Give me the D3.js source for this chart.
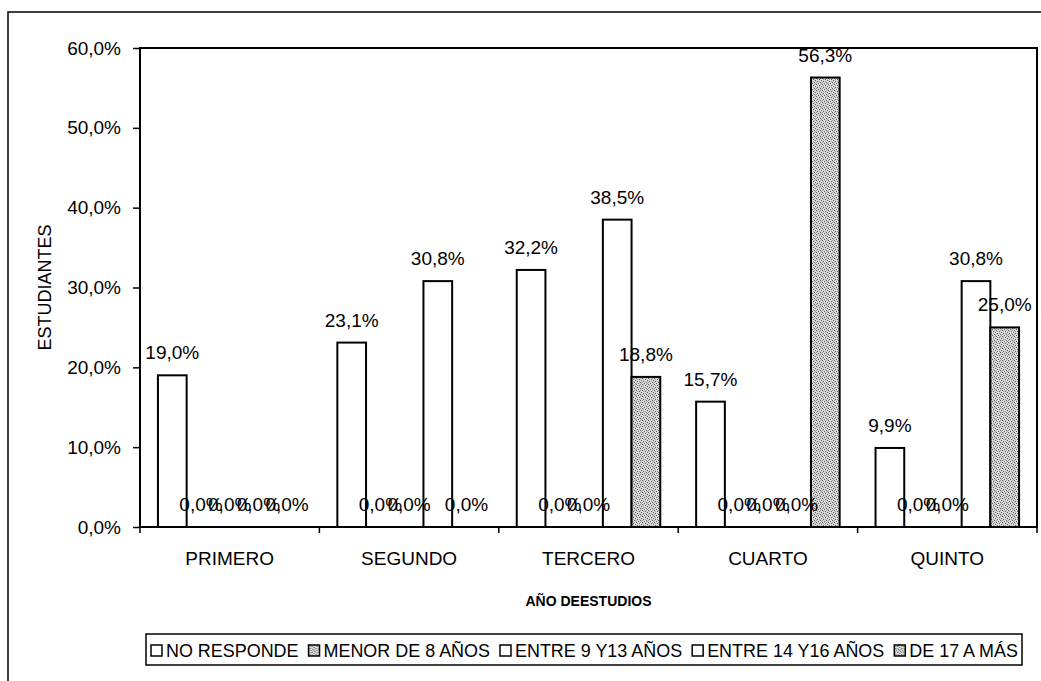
<!DOCTYPE html>
<html>
<head>
<meta charset="utf-8">
<script src="https://cdn.jsdelivr.net/npm/d3@7"></script>
<style>
  html, body { margin: 0; padding: 0; background: #fff; }
  svg { display: block; }
  text { font-family: "Liberation Sans", Arial, sans-serif; fill: #000; }
</style>
</head>
<body>
<svg id="chart" width="1041" height="681"></svg>
<script>
// ---- Data ----
const categories = ["PRIMERO", "SEGUNDO", "TERCERO", "CUARTO", "QUINTO"];
const seriesNames = ["NO RESPONDE", "MENOR DE 8 AÑOS", "ENTRE 9 Y13 AÑOS", "ENTRE 14 Y16 AÑOS", "DE 17 A MÁS"];
const noResponde   = [19.0, 23.1, 32.2, 15.7, 9.9];
const menorDe8     = [0.0, 0.0, 0.0, 0.0, 0.0];
const entre9y13    = [0.0, 0.0, 0.0, 0.0, 0.0];
const entre14y16   = [0.0, 30.8, 38.5, 0.0, 30.8];
const de17aMas     = [0.0, 0.0, 18.8, 56.3, 25.0];
const yTicks = [0, 10, 20, 30, 40, 50, 60];
const xTitle = "AÑO DEESTUDIOS";
const yTitle = "ESTUDIANTES";

const seriesValues = [noResponde, menorDe8, entre9y13, entre14y16, de17aMas];
const patterned = [false, true, false, false, true];

// ---- Layout ----
const svg = d3.select("#chart");
const plot = { left: 140, right: 1037, top: 48, bottom: 527 };

const locale = d3.formatLocale({ decimal: ",", thousands: ".", grouping: [3], currency: ["", ""] });
const fmt = v => locale.format(".1f")(v) + "%";

// pattern
const defs = svg.append("defs");
const pat = defs.append("pattern").attr("id", "stipple")
  .attr("patternUnits", "userSpaceOnUse").attr("width", 6).attr("height", 6);
pat.append("rect").attr("width", 6).attr("height", 6).attr("fill", "#dcdcdc");
[[0,0],[3,1],[1,3],[4,4],[2,5],[5,2]].forEach(([x, y]) =>
  pat.append("rect").attr("x", x).attr("y", y).attr("width", 1).attr("height", 1).attr("fill", "#555"));
[[1,1],[4,0],[0,4],[3,3],[5,5]].forEach(([x, y]) =>
  pat.append("rect").attr("x", x).attr("y", y).attr("width", 1).attr("height", 1).attr("fill", "#999"));

// outer frame
svg.append("rect").attr("x", 8).attr("y", 12).attr("width", 1100).attr("height", 800)
  .attr("fill", "none").attr("stroke", "#000").attr("stroke-width", 1.5);

const x0 = d3.scaleBand().domain(categories).range([plot.left, plot.right]).paddingInner(0).paddingOuter(0);
const groupW = x0.bandwidth();
const x1 = d3.scaleBand().domain(d3.range(seriesNames.length))
  .range([0, groupW]).paddingInner(0).paddingOuter(0.625);
const y = d3.scaleLinear().domain([0, 60]).range([plot.bottom, plot.top]);

// plot area frame
svg.append("rect").attr("x", plot.left).attr("y", plot.top)
  .attr("width", plot.right - plot.left).attr("height", plot.bottom - plot.top)
  .attr("fill", "#fff").attr("stroke", "#000").attr("stroke-width", 2);

// bars
const barData = [];
categories.forEach((c, ci) => {
  seriesValues.forEach((vals, si) => barData.push({ c, si, v: vals[ci] }));
});

const gBars = svg.append("g");
gBars.selectAll("rect").data(barData.filter(d => d.v > 0)).join("rect")
  .attr("x", d => x0(d.c) + x1(d.si))
  .attr("y", d => y(d.v))
  .attr("width", x1.bandwidth())
  .attr("height", d => y(0) - y(d.v))
  .attr("fill", d => patterned[d.si] ? "url(#stipple)" : "#fff")
  .attr("stroke", "#000").attr("stroke-width", 2);

// bar labels
svg.append("g").selectAll("text").data(barData).join("text")
  .attr("x", d => x0(d.c) + x1(d.si) + x1.bandwidth() / 2)
  .attr("y", d => y(d.v) - 16)
  .attr("text-anchor", "middle")
  .attr("font-size", 19)
  .text(d => fmt(d.v));

// y axis
const yAxis = d3.axisLeft(y).tickValues(yTicks).tickSize(7).tickPadding(12).tickFormat(v => locale.format(".1f")(v) + "%");
const gy = svg.append("g").attr("transform", `translate(${plot.left},0)`).call(yAxis);
gy.select(".domain").remove();
gy.selectAll(".tick line").attr("stroke", "#000").attr("stroke-width", 1.5);
gy.selectAll(".tick text").attr("font-size", 19).attr("font-family", "Liberation Sans, Arial, sans-serif").attr("fill", "#000");

// x axis
const xAxis = d3.axisBottom(x0).tickSize(0).tickPadding(25);
const gx = svg.append("g").attr("transform", `translate(0,${plot.bottom})`).call(xAxis);
gx.select(".domain").remove();
gx.selectAll(".tick text").attr("font-size", 19).attr("font-family", "Liberation Sans, Arial, sans-serif").attr("fill", "#000");
// boundary ticks
const bounds = categories.map(c => x0(c)).concat([plot.right]);
svg.append("g").selectAll("line").data(bounds).join("line")
  .attr("x1", d => d).attr("x2", d => d)
  .attr("y1", plot.bottom).attr("y2", plot.bottom + 6)
  .attr("stroke", "#000").attr("stroke-width", 1.5);

// axis titles
svg.append("text").attr("x", (plot.left + plot.right) / 2).attr("y", 606)
  .attr("text-anchor", "middle").attr("font-size", 15).attr("font-weight", "bold")
  .attr("textLength", 126).attr("lengthAdjust", "spacingAndGlyphs")
  .text(xTitle);
svg.append("text").attr("transform", `translate(51,${(plot.top + plot.bottom) / 2}) rotate(-90)`)
  .attr("text-anchor", "middle").attr("font-size", 18)
  .text(yTitle);

// legend
const legBox = { x: 146, y: 634, w: 876, h: 31 };
svg.append("rect").attr("x", legBox.x).attr("y", legBox.y).attr("width", legBox.w).attr("height", legBox.h)
  .attr("fill", "#fff").attr("stroke", "#000").attr("stroke-width", 1.5);
const gLeg = svg.append("g");
let cx = 0;
seriesNames.forEach((name, i) => {
  const item = gLeg.append("g").attr("transform", `translate(${cx},0)`);
  item.append("rect").attr("x", 0).attr("y", -12).attr("width", 11).attr("height", 11)
    .attr("fill", patterned[i] ? "url(#stipple)" : "#fff").attr("stroke", "#000").attr("stroke-width", 1.5);
  const t = item.append("text").attr("x", 15).attr("y", 0).attr("font-size", 18).text(name);
  cx += 15 + t.node().getComputedTextLength() + 10;
});
const natural = cx - 10;
const targetW = 1018 - 151;
gLeg.attr("transform", `translate(151,657) scale(${targetW / natural},1)`);
</script>
</body>
</html>
